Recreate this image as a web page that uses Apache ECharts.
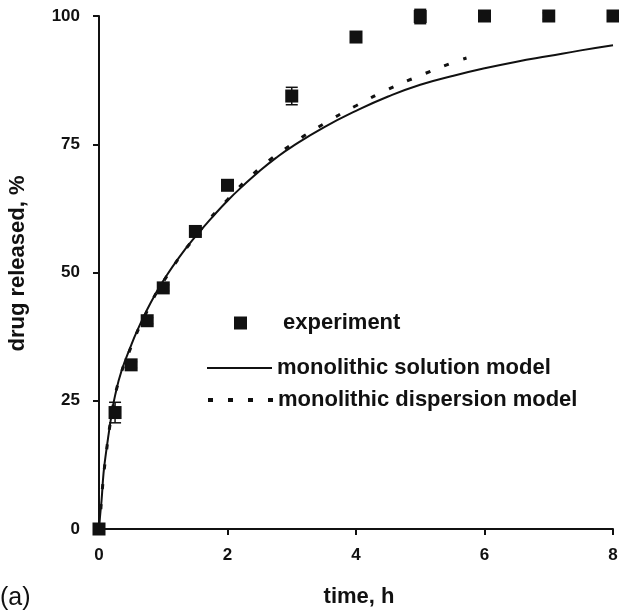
<!DOCTYPE html>
<html>
<head>
<meta charset="utf-8">
<script src="https://cdn.jsdelivr.net/npm/echarts@6/dist/echarts.min.js"></script>
<style>
  html, body { margin: 0; padding: 0; background: #fff; }
  #chart { width: 619px; height: 611px; }
</style>
</head>
<body>
<div id="chart"></div>
<script>
// Measured release (mean and error half-width) at each sampling time
const timeH = [0, 0.25, 0.5, 0.75, 1, 1.5, 2, 3, 4, 5, 6, 7, 8];
const released = [0, 22.7, 32.0, 40.6, 47.0, 58.0, 67.0, 84.4, 95.9, 99.9, 100, 100, 100];
const releasedErr = [0, 2.0, 0.6, 0.6, 0.6, 0.6, 0.6, 1.7, 0.8, 1.4, 0.6, 0.6, 0.6];

// Monolithic solution model curve
const solutionT = [0, 0.01, 0.02, 0.04, 0.07, 0.1, 0.15, 0.2, 0.25, 0.35, 0.5, 0.6, 0.75, 0.9, 1.0,
  1.25, 1.5, 1.75, 2.0, 2.25, 2.5, 2.75, 3.0, 3.5, 4.0, 4.5, 5.0, 5.5, 6.0, 6.5, 7.0, 7.5, 8.0];
const solutionY = [0, 1.5, 3.0, 5.6, 10.8, 14.0, 18.5, 22.6, 26.0, 30.8, 35.8, 38.8, 42.8, 46.3, 48.4,
  53.0, 57.0, 60.6, 64.0, 67.0, 69.8, 72.3, 74.5, 78.3, 81.5, 84.3, 86.6, 88.3, 89.8, 91.1, 92.2, 93.3, 94.3];

// Monolithic dispersion model curve
const dispersionT = [0, 0.02, 0.05, 0.1, 0.2, 0.3, 0.5, 0.75, 1.0, 1.5, 2.0, 2.5, 3.0, 3.5, 4.0, 4.5, 5.0, 5.5, 5.72];
const dispersionY = [0, 2.5, 7.5, 13.5, 22.5, 28.5, 35.5, 42.5, 48.2, 57.0, 64.2, 70.3, 75.0, 79.0, 82.5, 85.7, 88.4, 90.9, 91.8];

const xTicks = [0, 2, 4, 6, 8];
const yTicks = [0, 25, 50, 75, 100];

const INK = '#111';
const FONT = '"Liberation Sans", Arial, sans-serif';

const pairs = (xs, ys) => xs.map((x, i) => [x, ys[i]]);
const expData = pairs(timeH, released);
const errData = timeH.map((t, i) => [t, released[i] - releasedErr[i], released[i] + releasedErr[i]]);

const chart = echarts.init(document.getElementById('chart'), null, { renderer: 'canvas' });

const axisCommon = {
  type: 'value',
  axisLine: { show: true, lineStyle: { color: INK, width: 2 } },
  axisTick: { show: true, inside: false, length: 6, lineStyle: { color: INK, width: 2 } },
  splitLine: { show: false },
  axisLabel: { color: INK, fontFamily: FONT, fontWeight: 'bold', fontSize: 17 },
  nameLocation: 'middle',
  nameMoveOverlap: false
};

const nameStyle = { color: INK, fontFamily: FONT, fontWeight: 'bold', fontSize: 22 };
const legendText = { color: INK, fontFamily: FONT, fontWeight: 'bold', fontSize: 22, lineHeight: 22 };

const lineLegend = {
  orient: 'vertical',
  padding: 0,
  itemWidth: 65,
  itemHeight: 13,
  selectedMode: false,
  itemStyle: { opacity: 0 },
  textStyle: legendText
};

chart.setOption({
  backgroundColor: '#fff',
  animation: false,
  grid: { left: 99, right: 6, top: 16, bottom: 82, outerBoundsMode: 'none', containLabel: false },
  xAxis: Object.assign({}, axisCommon, {
    min: xTicks[0], max: xTicks[xTicks.length - 1], interval: xTicks[1] - xTicks[0],
    name: 'time, h', nameGap: 57,
    nameTextStyle: Object.assign({}, nameStyle, { padding: [0, 0, 0, 6] }),
    axisLabel: Object.assign({}, axisCommon.axisLabel, { margin: 18 })
  }),
  yAxis: Object.assign({}, axisCommon, {
    min: yTicks[0], max: yTicks[yTicks.length - 1], interval: yTicks[1] - yTicks[0],
    name: 'drug released, %', nameGap: 70,
    nameTextStyle: Object.assign({}, nameStyle, { padding: [0, 0, 0, 18] }),
    axisLabel: Object.assign({}, axisCommon.axisLabel, { margin: 19 })
  }),
  legend: [
    {
      orient: 'vertical',
      padding: 0,
      left: 234, top: 312,
      itemWidth: 13,
      itemHeight: 13,
      selectedMode: false,
      textStyle: Object.assign({}, legendText, { padding: [0, 0, 0, 31] }),
      data: [{ name: 'experiment', icon: 'rect' }]
    },
    Object.assign({}, lineLegend, {
      left: 206, top: 357,
      lineStyle: { width: 2 },
      data: ['monolithic solution model']
    }),
    Object.assign({}, lineLegend, {
      left: 206, top: 389,
      lineStyle: { width: 4, type: [5, 15] },
      data: ['monolithic dispersion model']
    })
  ],
  graphic: [{
    type: 'text', left: 0, top: 586,
    style: { text: '(a)', fill: INK, font: '25px ' + FONT }
  }],
  series: [
    {
      name: 'monolithic solution model',
      type: 'line',
      data: pairs(solutionT, solutionY),
      smooth: 0.5,
      showSymbol: false,
      symbol: 'none',
      lineStyle: { color: INK, width: 2 },
      itemStyle: { color: INK },
      z: 3
    },
    {
      name: 'monolithic dispersion model',
      type: 'line',
      data: pairs(dispersionT, dispersionY),
      smooth: 0.5,
      showSymbol: false,
      symbol: 'none',
      lineStyle: { color: INK, width: 3, type: [5, 15] },
      itemStyle: { color: INK },
      z: 3
    },
    {
      name: 'error',
      type: 'custom',
      data: errData,
      clip: false,
      z: 4,
      renderItem: function (params, api) {
        const x = api.value(0);
        const top = api.coord([x, api.value(2)]);
        const bot = api.coord([x, api.value(1)]);
        const half = 6;
        const style = { stroke: INK, lineWidth: 1.5 };
        return {
          type: 'group',
          children: [
            { type: 'line', shape: { x1: top[0], y1: top[1], x2: bot[0], y2: bot[1] }, style: style },
            { type: 'line', shape: { x1: top[0] - half, y1: top[1], x2: top[0] + half, y2: top[1] }, style: style },
            { type: 'line', shape: { x1: bot[0] - half, y1: bot[1], x2: bot[0] + half, y2: bot[1] }, style: style }
          ]
        };
      }
    },
    {
      name: 'experiment',
      type: 'scatter',
      data: expData,
      symbol: 'rect',
      symbolSize: 13,
      clip: false,
      itemStyle: { color: INK, opacity: 1 },
      z: 5
    }
  ]
});
</script>
</body>
</html>
